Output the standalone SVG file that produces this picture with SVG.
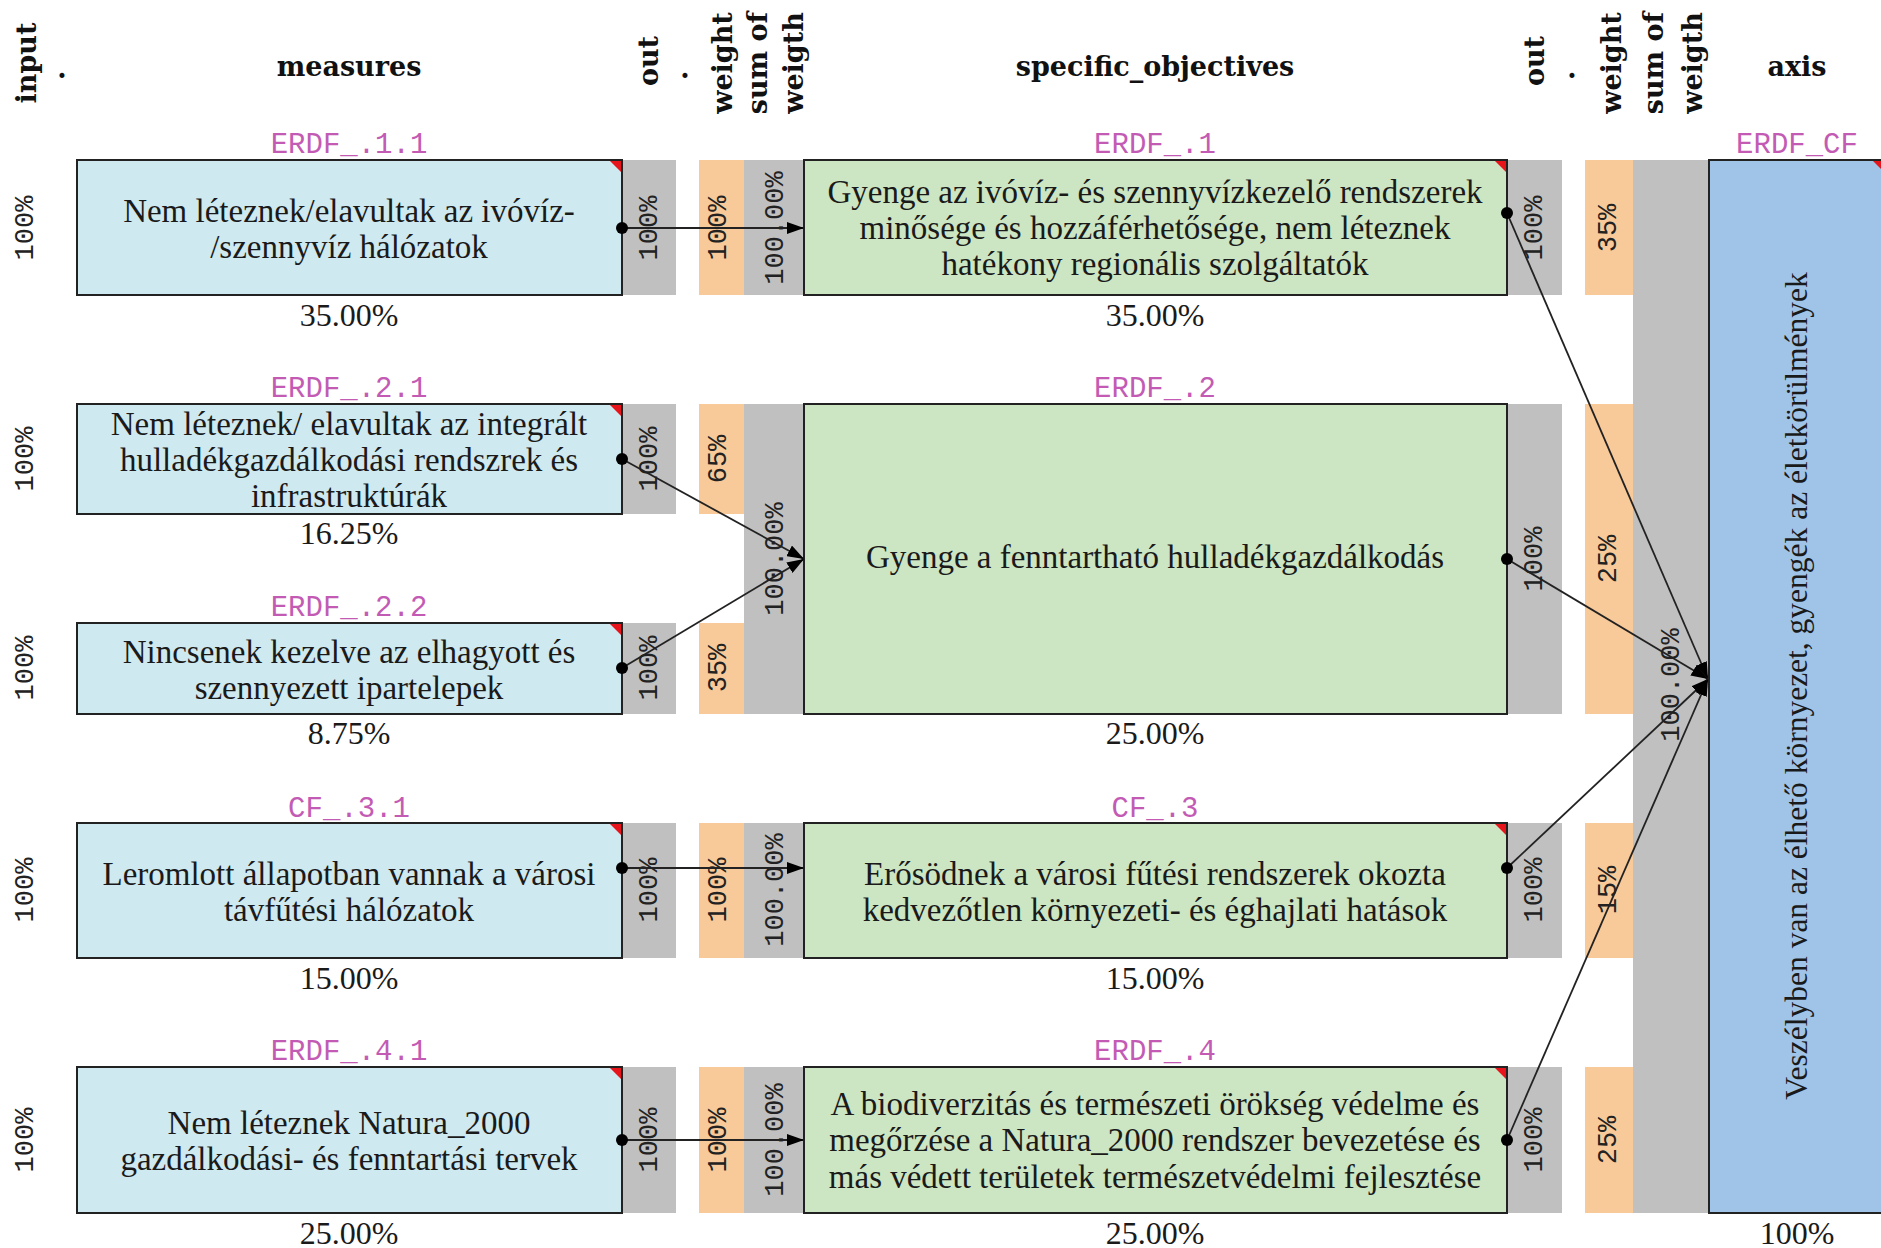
<svg xmlns="http://www.w3.org/2000/svg" width="1881" height="1248" viewBox="0 0 1881 1248">
<style>
.hdr{font-family:"DejaVu Serif",serif;font-weight:bold;font-size:27px;fill:#111;text-anchor:middle}
.rh{font-family:"DejaVu Serif",serif;font-weight:bold;font-size:27px;fill:#111;text-anchor:middle;dominant-baseline:central}
.id{font-family:"Liberation Mono",monospace;font-size:29px;fill:#c35bb4;text-anchor:middle}
.txt{font-family:"Liberation Serif",serif;font-size:33px;fill:#1a1a1a;text-anchor:middle}
.pct{font-family:"Liberation Serif",serif;font-size:32px;fill:#1a1a1a;text-anchor:middle}
.rp{font-family:"Liberation Mono",monospace;font-size:27px;fill:#222;text-anchor:middle;dominant-baseline:central}
.mbox{fill:#cfe9f0;stroke:#222;stroke-width:2}
.sbox{fill:#cce5c3;stroke:#222;stroke-width:2}
.abox{fill:#9fc4e8;stroke:#222;stroke-width:2}
.gray{fill:#c0c0c0}
.org{fill:#f8c999}
.red{fill:#e8141b}
.edge{stroke:#222;stroke-width:1.8;fill:none;marker-end:url(#arr)}
.dot{fill:#000}
</style>
<defs>
<marker id="arr" markerUnits="userSpaceOnUse" markerWidth="17" markerHeight="12" refX="17" refY="6" orient="auto">
<path d="M0,0 L17,6 L0,12 z" fill="#000"/>
</marker>
</defs>
<rect width="1881" height="1248" fill="#fff"/>

<g id="headers">
<text class="rh" transform="translate(26,63) rotate(-90)">input</text>
<text class="hdr" x="62" y="78">.</text>
<text class="hdr" x="349" y="76">measures</text>
<text class="rh" transform="translate(648,61) rotate(-90)">out</text>
<text class="hdr" x="685" y="78">.</text>
<text class="rh" transform="translate(722,63) rotate(-90)">weight</text>
<text class="rh" transform="translate(757,63) rotate(-90)">sum of</text>
<text class="rh" transform="translate(793,63) rotate(-90)">weigth</text>
<text class="hdr" x="1155" y="76">specific_objectives</text>
<text class="rh" transform="translate(1534,61) rotate(-90)">out</text>
<text class="hdr" x="1572" y="78">.</text>
<text class="rh" transform="translate(1611,63) rotate(-90)">weight</text>
<text class="rh" transform="translate(1653,63) rotate(-90)">sum of</text>
<text class="rh" transform="translate(1692,63) rotate(-90)">weigth</text>
<text class="hdr" x="1797" y="76">axis</text>
</g>

<g id="strips">
<rect class="gray" x="622" y="160" width="54" height="135"/>
<rect class="gray" x="622" y="404" width="54" height="110"/>
<rect class="gray" x="622" y="623" width="54" height="91"/>
<rect class="gray" x="622" y="823" width="54" height="135"/>
<rect class="gray" x="622" y="1067" width="54" height="146"/>
<rect class="org" x="699" y="160" width="45" height="135"/>
<rect class="org" x="699" y="404" width="45" height="110"/>
<rect class="org" x="699" y="623" width="45" height="91"/>
<rect class="org" x="699" y="823" width="45" height="135"/>
<rect class="org" x="699" y="1067" width="45" height="146"/>
<rect class="gray" x="744" y="160" width="60" height="135"/>
<rect class="gray" x="744" y="404" width="60" height="310"/>
<rect class="gray" x="744" y="823" width="60" height="135"/>
<rect class="gray" x="744" y="1067" width="60" height="146"/>
<rect class="gray" x="1507" y="160" width="55" height="135"/>
<rect class="gray" x="1507" y="404" width="55" height="310"/>
<rect class="gray" x="1507" y="823" width="55" height="135"/>
<rect class="gray" x="1507" y="1067" width="55" height="146"/>
<rect class="org" x="1585" y="160" width="48" height="135"/>
<rect class="org" x="1585" y="404" width="48" height="310"/>
<rect class="org" x="1585" y="823" width="48" height="135"/>
<rect class="org" x="1585" y="1067" width="48" height="146"/>
<rect class="gray" x="1633" y="160" width="76" height="1053"/>
</g>

<g id="m11">
<text class="rp" transform="translate(26,228) rotate(-90)">100%</text>
<text class="id" x="349" y="153">ERDF_.1.1</text>
<rect class="mbox" x="77" y="160" width="545" height="135"/>
<path class="red" d="M610,161 L621,161 L621,172 z"/>
<text class="txt" x="349" y="222">Nem léteznek/elavultak az ivóvíz-</text>
<text class="txt" x="349" y="258">/szennyvíz hálózatok</text>
<text class="pct" x="349" y="326">35.00%</text>
<text class="rp" transform="translate(650,228) rotate(-90)">100%</text>
</g>

<g id="m21">
<text class="rp" transform="translate(26,459) rotate(-90)">100%</text>
<text class="id" x="349" y="397">ERDF_.2.1</text>
<rect class="mbox" x="77" y="404" width="545" height="110"/>
<path class="red" d="M610,405 L621,405 L621,416 z"/>
<text class="txt" x="349" y="435">Nem léteznek/ elavultak az integrált</text>
<text class="txt" x="349" y="471">hulladékgazdálkodási rendszrek és</text>
<text class="txt" x="349" y="507">infrastruktúrák</text>
<text class="pct" x="349" y="544">16.25%</text>
<text class="rp" transform="translate(650,459) rotate(-90)">100%</text>
</g>

<g id="m22">
<text class="rp" transform="translate(26,668) rotate(-90)">100%</text>
<text class="id" x="349" y="616">ERDF_.2.2</text>
<rect class="mbox" x="77" y="623" width="545" height="91"/>
<path class="red" d="M610,624 L621,624 L621,635 z"/>
<text class="txt" x="349" y="663">Nincsenek kezelve az elhagyott és</text>
<text class="txt" x="349" y="699">szennyezett ipartelepek</text>
<text class="pct" x="349" y="744">8.75%</text>
<text class="rp" transform="translate(650,668) rotate(-90)">100%</text>
</g>

<g id="m31">
<text class="rp" transform="translate(26,890) rotate(-90)">100%</text>
<text class="id" x="349" y="817">CF_.3.1</text>
<rect class="mbox" x="77" y="823" width="545" height="135"/>
<path class="red" d="M610,824 L621,824 L621,835 z"/>
<text class="txt" x="349" y="885">Leromlott állapotban vannak a városi</text>
<text class="txt" x="349" y="921">távfűtési hálózatok</text>
<text class="pct" x="349" y="989">15.00%</text>
<text class="rp" transform="translate(650,890) rotate(-90)">100%</text>
</g>

<g id="m41">
<text class="rp" transform="translate(26,1140) rotate(-90)">100%</text>
<text class="id" x="349" y="1060">ERDF_.4.1</text>
<rect class="mbox" x="77" y="1067" width="545" height="146"/>
<path class="red" d="M610,1068 L621,1068 L621,1079 z"/>
<text class="txt" x="349" y="1134">Nem léteznek Natura_2000</text>
<text class="txt" x="349" y="1170">gazdálkodási- és fenntartási tervek</text>
<text class="pct" x="349" y="1244">25.00%</text>
<text class="rp" transform="translate(650,1140) rotate(-90)">100%</text>
</g>

<g id="s1">
<text class="rp" transform="translate(719,228) rotate(-90)">100%</text>
<text class="rp" transform="translate(776,228) rotate(-90)">100.00%</text>
<text class="id" x="1155" y="153">ERDF_.1</text>
<rect class="sbox" x="804" y="160" width="703" height="135"/>
<path class="red" d="M1495,161 L1506,161 L1506,172 z"/>
<text class="txt" x="1155" y="203">Gyenge az ivóvíz- és szennyvízkezelő rendszerek</text>
<text class="txt" x="1155" y="239">minősége és hozzáférhetősége, nem léteznek</text>
<text class="txt" x="1155" y="275">hatékony regionális szolgáltatók</text>
<text class="pct" x="1155" y="326">35.00%</text>
<text class="rp" transform="translate(1535,228) rotate(-90)">100%</text>
<text class="rp" transform="translate(1609,228) rotate(-90)">35%</text>
</g>

<g id="s2">
<text class="rp" transform="translate(719,459) rotate(-90)">65%</text>
<text class="rp" transform="translate(719,668) rotate(-90)">35%</text>
<text class="rp" transform="translate(776,559) rotate(-90)">100.00%</text>
<text class="id" x="1155" y="397">ERDF_.2</text>
<rect class="sbox" x="804" y="404" width="703" height="310"/>
<text class="txt" x="1155" y="568">Gyenge a fenntartható hulladékgazdálkodás</text>
<text class="pct" x="1155" y="744">25.00%</text>
<text class="rp" transform="translate(1535,559) rotate(-90)">100%</text>
<text class="rp" transform="translate(1609,559) rotate(-90)">25%</text>
</g>

<g id="s3">
<text class="rp" transform="translate(719,890) rotate(-90)">100%</text>
<text class="rp" transform="translate(776,890) rotate(-90)">100.00%</text>
<text class="id" x="1155" y="817">CF_.3</text>
<rect class="sbox" x="804" y="823" width="703" height="135"/>
<path class="red" d="M1495,824 L1506,824 L1506,835 z"/>
<text class="txt" x="1155" y="885">Erősödnek a városi fűtési rendszerek okozta</text>
<text class="txt" x="1155" y="921">kedvezőtlen környezeti- és éghajlati hatások</text>
<text class="pct" x="1155" y="989">15.00%</text>
<text class="rp" transform="translate(1535,890) rotate(-90)">100%</text>
<text class="rp" transform="translate(1609,890) rotate(-90)">15%</text>
</g>

<g id="s4">
<text class="rp" transform="translate(719,1140) rotate(-90)">100%</text>
<text class="rp" transform="translate(776,1140) rotate(-90)">100.00%</text>
<text class="id" x="1155" y="1060">ERDF_.4</text>
<rect class="sbox" x="804" y="1067" width="703" height="146"/>
<path class="red" d="M1495,1068 L1506,1068 L1506,1079 z"/>
<text class="txt" x="1155" y="1115">A biodiverzitás és természeti örökség védelme és</text>
<text class="txt" x="1155" y="1151">megőrzése a Natura_2000 rendszer bevezetése és</text>
<text class="txt" x="1155" y="1188">más védett területek természetvédelmi fejlesztése</text>
<text class="pct" x="1155" y="1244">25.00%</text>
<text class="rp" transform="translate(1535,1140) rotate(-90)">100%</text>
<text class="rp" transform="translate(1609,1140) rotate(-90)">25%</text>
</g>

<g id="axis">
<text class="rp" transform="translate(1672,685) rotate(-90)">100.00%</text>
<text class="id" x="1797" y="153">ERDF_CF</text>
<rect class="abox" x="1709" y="160" width="177" height="1053"/>
<path class="red" d="M1873,161 L1884,161 L1884,172 z"/>
<text class="txt" transform="translate(1807,686) rotate(-90)" style="font-size:31.5px">Veszélyben van az élhető környezet, gyengék az életkörülmények</text>
<text class="pct" x="1797" y="1244">100%</text>
</g>

<g id="connectors">
<path class="edge" d="M622,228 L804,228"/>
<path class="edge" d="M622,459 L804,559"/>
<path class="edge" d="M622,668 L804,559"/>
<path class="edge" d="M622,868 L804,868"/>
<path class="edge" d="M622,1140 L804,1140"/>
<path class="edge" d="M1507,213 L1708,679"/>
<path class="edge" d="M1507,559 L1708,679"/>
<path class="edge" d="M1507,868 L1708,679"/>
<path class="edge" d="M1507,1140 L1708,679"/>
<circle class="dot" cx="622" cy="228" r="6"/>
<circle class="dot" cx="622" cy="459" r="6"/>
<circle class="dot" cx="622" cy="668" r="6"/>
<circle class="dot" cx="622" cy="868" r="6"/>
<circle class="dot" cx="622" cy="1140" r="6"/>
<circle class="dot" cx="1507" cy="213" r="6"/>
<circle class="dot" cx="1507" cy="559" r="6"/>
<circle class="dot" cx="1507" cy="868" r="6"/>
<circle class="dot" cx="1507" cy="1140" r="6"/>
</g>
</svg>
